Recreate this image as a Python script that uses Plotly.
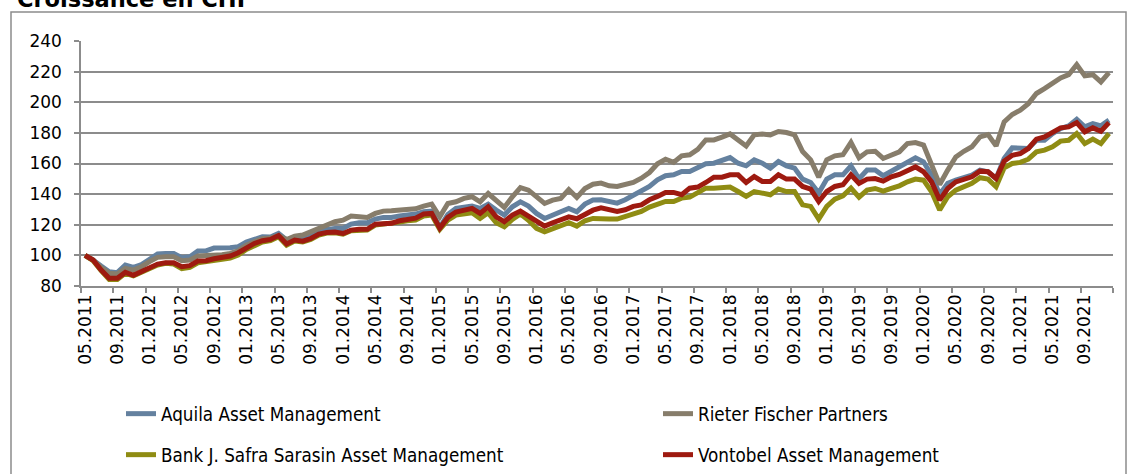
import plotly.graph_objects as go
import pandas as pd

# ---------------- data ----------------
months = [d.strftime("%m.%Y") for d in pd.date_range("2011-05-01", "2021-12-01", freq="MS")]

tick_labels = ["05.2011", "09.2011", "01.2012", "05.2012", "09.2012", "01.2013", "05.2013", "09.2013",
               "01.2014", "05.2014", "09.2014", "01.2015", "05.2015", "09.2015", "01.2016", "05.2016",
               "09.2016", "01.2017", "05.2017", "09.2017", "01.2018", "05.2018", "09.2018", "01.2019",
               "05.2019", "09.2019", "01.2020", "05.2020", "09.2020", "01.2021", "05.2021", "09.2021"]

aquila = [100, 97, 93, 89.3, 88.7, 93.7, 92.2, 94, 97.4, 100.9, 101.3, 101.3, 98.5, 99.1, 102.8, 103,
          104.8, 104.8, 105, 105.7, 108.7, 110.4, 112.2, 112, 114.3, 110, 111.7, 111.7, 113.3, 115.4, 117, 117.6,
          117.6, 120.4, 121.3, 121.3, 123.7, 124.8, 124.8, 125.7, 126.3, 127, 128.5, 128.9, 118.3, 126.7, 130.7, 131.7,
          132.2, 130.7, 133.5, 129.6, 126.3, 131.7, 135, 132.2, 127.4, 124.1, 126.7, 128.5, 130.7, 128.5, 133.5, 136.1,
          136.3, 135.2, 134.1, 136.3, 138.9, 141.7, 145, 149.3, 152, 152.6, 154.8, 154.8, 157, 159.8, 160.2, 162,
          163.9, 160.2, 158.5, 162.4, 160.2, 157, 161.3, 158.5, 157, 149.8, 147.6, 140.7, 149.8, 152.6, 152.6, 158.5,
          150, 155.7, 155.7, 152, 155, 157.8, 161.5, 163.7, 161.1, 152.4, 139.8, 147, 149.1, 150.7, 152.4, 155.7,
          154.6, 150.2, 163.3, 170.2, 170.2, 169.8, 175.2, 175.2, 179.6, 182.8, 184.6, 188.9, 183.9, 186.1, 184.6, 188.3]

rieter = [100, 97, 92, 88.3, 87.8, 91.5, 90.4, 92.6, 95.9, 98.7, 99.1, 99.1, 96.5, 97, 99.6, 99.6,
          100.2, 100.4, 101.3, 103, 106.7, 108.9, 110.9, 111.3, 113, 110.4, 112.6, 113.3, 115.4, 118.3, 120.4, 122,
          123, 125.7, 125.2, 124.8, 127.4, 128.9, 129.1, 129.6, 129.6, 130.4, 132.2, 133.5, 125.2, 133.9, 135, 137.2,
          138.3, 135, 140.4, 136.1, 131.3, 138.3, 144.3, 142.6, 138.3, 133.9, 136.1, 137.2, 143, 137.8, 143.7, 146.5,
          147.2, 145.4, 145, 146.1, 147.6, 150.4, 154.1, 159.8, 162.8, 160.7, 165, 165.7, 169.3, 175.4, 175.4, 177.2,
          179.3, 175.4, 171.5, 178.7, 179.3, 178.7, 180.9, 180.2, 178.7, 167.8, 162.4, 151.1, 162.4, 165, 165.7, 173.7,
          163.7, 167.6, 168, 163.3, 165.4, 167.6, 173, 173.7, 172, 160, 146.3, 155.7, 164.3, 168, 170.9, 177.4,
          178.9, 171.5, 187.2, 192, 194.8, 199.1, 205.7, 208.9, 212.2, 215.9, 218, 224.6, 217.2, 218, 213.3, 219.3]

sarasin = [100, 96.5, 90, 84.3, 84.3, 88.3, 86.6, 88.7, 91.3, 93.7, 94.8, 94.3, 91.3, 92.2, 95.2, 95.7,
           97, 97.4, 98.3, 100.2, 103.9, 106.7, 108.7, 109.6, 112.2, 106.7, 109.3, 108.7, 110.4, 113.3, 114.6, 114.8,
           113.9, 116.1, 116.5, 116.5, 119.8, 120.4, 120.4, 121.7, 122.6, 123, 125.7, 126.3, 117, 123, 126.3, 127.4,
           127.8, 124.1, 127.8, 121.3, 118.7, 123.5, 127, 123, 117.6, 115.4, 117.6, 119.1, 121.3, 119.1, 122.6, 124.1,
           124.3, 123.7, 123.7, 125.4, 127.2, 128.7, 131.5, 133.7, 135.2, 135.2, 137.4, 138, 141.1, 143.9, 143.9, 143.9,
           144.6, 141.7, 138.5, 141.7, 140.7, 139.6, 143.3, 141.7, 141.7, 133, 132, 123.7, 132, 136.7, 138.9, 143.9,
           138, 142.6, 143.7, 142, 143.7, 145.4, 148, 149.8, 149.1, 141.5, 129.6, 138.3, 142.6, 144.8, 147, 150.7,
           149.8, 144.8, 157.2, 160, 160.7, 162.8, 167.6, 168.7, 170.9, 174.6, 175.2, 179.6, 173, 175.9, 173, 179.6]

vontobel = [100, 97, 90.4, 85, 85, 88.9, 87, 89.3, 92, 94.3, 95.2, 95.2, 92.6, 93.3, 96.3, 96.5,
            97.8, 98.3, 99.6, 101.7, 105.2, 107.8, 109.6, 110.4, 113, 107.4, 110, 109.3, 111, 113.9, 115, 115.2,
            114.3, 116.5, 117, 117, 120.4, 120.9, 120.9, 122.6, 123.7, 124.3, 127, 127.4, 117.8, 124.8, 128.3, 129.6,
            130.7, 127.4, 131.7, 125.2, 122, 126.3, 128.9, 125.7, 122, 119.1, 121.3, 123.5, 125.2, 123.9, 127, 129.5,
            131, 129.8, 128.7, 129.8, 132, 133, 136.3, 138.5, 141.1, 141.1, 139.6, 143.9, 144.6, 147.6, 151.1, 151.1,
            152.6, 152.6, 147.6, 151.5, 148.3, 148.3, 152.6, 149.8, 149.8, 145, 143.3, 135.2, 141.7, 145, 146.1, 152.6,
            147, 149.8, 150.2, 148.5, 151.3, 152.8, 155.7, 157.8, 154.6, 148, 136.1, 143.7, 148, 149.8, 151.3, 155,
            154.6, 150.2, 161.5, 165.4, 166.5, 169.8, 175.9, 177.4, 180.7, 183.3, 183.9, 186.7, 180.7, 183.3, 181.1, 186.7]

series_names = ["Aquila Asset Management", "Rieter Fischer Partners",
                "Bank J. Safra Sarasin Asset Management", "Vontobel Asset Management"]
series_values = [aquila, rieter, sarasin, vontobel]
series_colors = ["#64819f", "#877d6b", "#8f8c13", "#9e1a10"]

# ---------------- geometry (screen pixels; body margin is removed below) ----------------
W, H = 1131, 474
PL, PR, PT, PB = 81, 1113, 41, 286          # plot area on screen
L, R, T, B = PL, W - PR, PT, H - PB
pw, ph = W - L - R, H - T - B
GRAY = "#8c8c8c"
FONT = "DejaVu Sans"
LFONT = dict(family="DejaVu Sans Condensed", size=18.7, color="#000000")


def sx(p):  # screen x -> paper
    return (p - L) / pw


def sy(p):  # screen y -> paper
    return (H - B - p) / ph


# legend slots: (legend id, screen x of legend box, screen y of row centre)
legend_slots = [("legend", 121, 414), ("legend2", 658, 414),
                ("legend3", 121, 455), ("legend4", 658, 455)]

xidx = list(range(len(months)))
fig = go.Figure()
for name, vals, color, slot in zip(series_names, series_values, series_colors, legend_slots):
    fig.add_trace(go.Scatter(
        x=xidx, y=vals, name=name, mode="lines", customdata=months,
        line=dict(color=color, width=5),
        legend=slot[0], hovertemplate="%{customdata}: %{y}<extra>" + name + "</extra>",
    ))

label_pos = [months.index(t) for t in tick_labels]
boundaries = [-0.5 + 4 * k for k in range(len(months) // 4 + 1)]

legend_layout = {}
for lid, lx, ly in legend_slots:
    legend_layout[lid] = dict(orientation="h", x=sx(lx), y=sy(ly), xanchor="left", yanchor="middle",
                              font=LFONT, bgcolor="rgba(0,0,0,0)", itemclick=False,
                              itemdoubleclick=False)

fig.update_layout(
    width=W, height=H,
    margin=dict(l=L, r=R, t=T, b=B, autoexpand=False),
    paper_bgcolor="white", plot_bgcolor="white",
    font=dict(family=FONT, size=17, color="#000000"),
    showlegend=True,
    **legend_layout,
    xaxis=dict(
        range=[-0.5, len(months) - 0.5],
        tickmode="array", tickvals=label_pos, ticktext=tick_labels,
        tickangle=-90, ticks="", showgrid=False, zeroline=False,
        showline=True, linecolor=GRAY, linewidth=1.5,
        tickfont=dict(family=FONT, size=17),
        ticklabelstandoff=0,
        minor=dict(tickmode="array", tickvals=boundaries, ticks="outside", ticklen=5,
                   tickcolor=GRAY, tickwidth=1.5, showgrid=False),
    ),
    yaxis=dict(
        range=[80, 240], tickmode="linear", tick0=80, dtick=20,
        showgrid=True, gridcolor=GRAY, gridwidth=1.5, zeroline=False,
        showline=True, linecolor=GRAY, linewidth=1.5,
        ticks="outside", ticklen=5, tickcolor=GRAY, tickwidth=1.5,
        tickfont=dict(family=FONT, size=17), ticklabelstandoff=9,
    ),
)

# outer chart frame
fig.add_shape(type="rect", xref="paper", yref="paper",
              x0=sx(11), x1=sx(1126), y0=sy(490), y1=sy(12),
              line=dict(color=GRAY, width=1.5), fillcolor="rgba(0,0,0,0)", layer="below")

# title (cut off at the top edge, as in the reference)
fig.add_annotation(text="<b>Croissance en CHF</b>", xref="paper", yref="paper",
                   x=sx(15), y=sy(14), xanchor="left", yanchor="bottom",
                   showarrow=False, font=dict(family=FONT, size=22.5, color="#000000"))

fig.write_html(
    "out.html",
    config={"displayModeBar": False},
    post_script="document.body.style.margin='0';document.body.style.overflow='hidden';",
)
